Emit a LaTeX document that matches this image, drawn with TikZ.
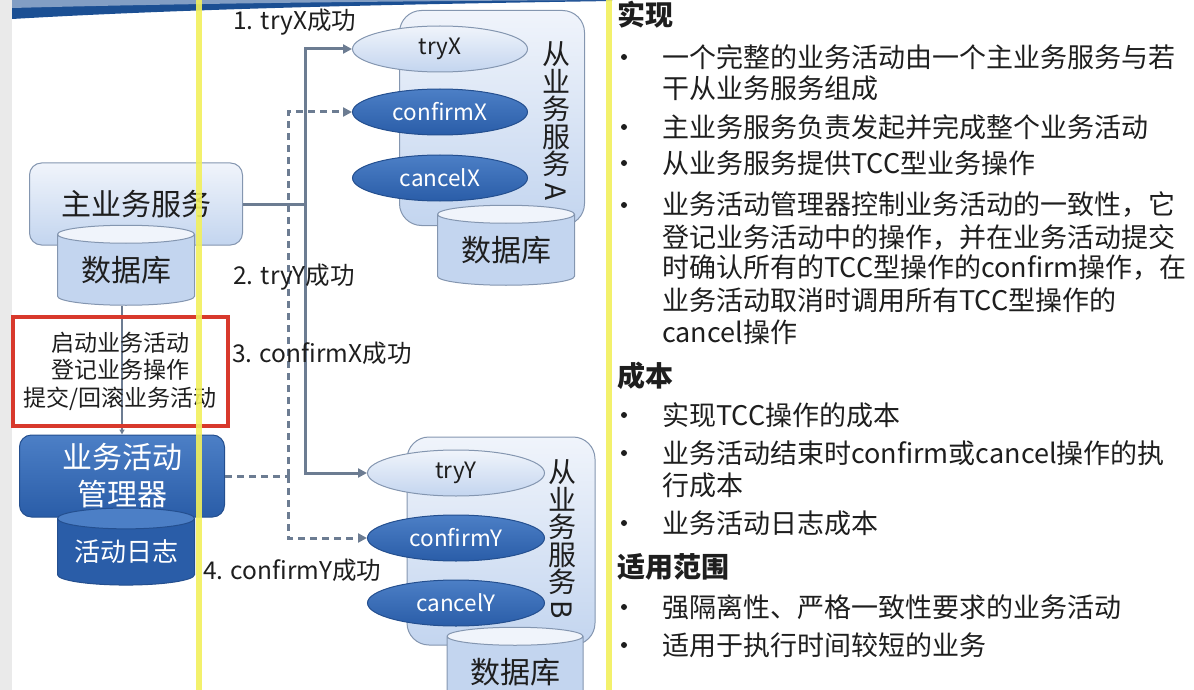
\documentclass[tikz,border=0pt]{standalone}
\usepackage{fontspec}
\setmainfont{Noto Sans CJK SC}
\usetikzlibrary{arrows.meta,positioning,calc,shapes.geometric}
\newcommand\fsz[2]{\fontsize{#1}{#2}\selectfont}
\definecolor{lite}{HTML}{C3D5EF}
\definecolor{litetop}{HTML}{F0F4FB}
\definecolor{deep}{HTML}{2A5DA8}
\definecolor{deeptop}{HTML}{4C7FC6}
\definecolor{edge}{HTML}{8496B0}
\definecolor{wire}{HTML}{6C7C92}
\definecolor{mark}{HTML}{D8392C}
\definecolor{hilite}{HTML}{F2F05C}
\definecolor{banner}{HTML}{1B4F93}
\definecolor{sidegray}{HTML}{EAEAEA}
\definecolor{ink}{HTML}{1E1E1E}
\tikzset{
  box/.style={draw=edge, line width=1pt, rounded corners=12pt, top color=litetop, bottom color=lite, text=ink},
  dbox/.style={draw=deep!85!black, line width=1pt, rounded corners=12pt, top color=deeptop, bottom color=deep, text=white},
  db/.style={cylinder, shape border rotate=90, aspect=0.2, draw=edge, line width=1pt,
    cylinder uses custom fill, cylinder body fill=lite, cylinder end fill=litetop,
    minimum width=137pt, minimum height=80pt, inner sep=0pt, text=ink},
  ddb/.style={db, draw=deep!85!black, cylinder body fill=deep, cylinder end fill=deeptop, text=white},
  opl/.style={ellipse, draw=edge, line width=1pt, top color=litetop, bottom color=lite, text=ink,
    minimum width=175pt, minimum height=46pt, inner sep=0pt, font=\fsz{22.5}{26}},
  opd/.style={opl, draw=deep!85!black, top color=deeptop, bottom color=deep, text=white},
  vlab/.style={align=center, inner sep=0pt, text=ink, font=\fsz{28}{27.5}},
  steplab/.style={anchor=west, inner sep=0pt, text=ink, font=\fsz{24.5}{28}},
  link/.style={draw=wire, line width=3pt},
  linkarr/.style={link, -{Triangle[length=9pt,width=9pt]}},
  ctl/.style={draw=wire, line width=3pt, dash pattern=on 7pt off 5pt},
  ctlarr/.style={ctl, -{Triangle[length=9pt,width=9pt]}},
  head/.style={anchor=west, inner sep=0pt, text=ink, font=\fsz{28}{32}\bfseries},
  txt/.style={anchor=west, inner sep=0pt, text=ink, font=\fsz{27}{30}},
  dot/.style={circle, fill=ink, inner sep=0pt, minimum size=6pt},
}

\begin{document}
\begin{tikzpicture}[x=1pt, y=-1pt]
  \useasboundingbox (0,0) rectangle (1194,690);
  \clip (0,0) rectangle (1194,690);
  \fill[sidegray] (0,0) rectangle (12,690);
  \fill[banner] (12,0) -- (612,0) -- (612,1) .. controls (420,4) and (200,8) .. (12,19) -- cycle;
  \fill[banner!55!white] (12,0) -- (612,0) .. controls (420,1) and (200,3) .. (12,8) -- cycle;

  % main service side
  \node[box, minimum width=213pt, minimum height=82pt, font=\fsz{30}{36}] (main) at (136,204) {主业务服务};
  \node[db, font=\fsz{30}{36}] (mdb) at (126,270) {数据库};
  \node[dbox, minimum width=205pt, minimum height=82pt, align=center, font=\fsz{30}{37}] (mgr) at (122,476) {业务活动\\管理器};
  \node[ddb, minimum height=77pt, font=\fsz{26}{30}] (log) at (126,552) {活动日志};
  \draw[wire, line width=2pt, -{Triangle[length=5pt,width=5pt]}] (mgr.north |- mdb.south) -- (mgr.north);
  \node[draw=mark, line width=4pt, minimum width=215pt, minimum height=109pt, align=center, text=ink,
    font=\fsz{23}{27.5}] (steps) at (120,371) {启动业务活动\\登记业务操作\\提交/回滚业务活动};

  % slave service A
  \node[box, rounded corners=22pt, minimum width=185pt, minimum height=215pt] (svcA) at (492,118) {};
  \node[opl] (tryx) at (440,49) {tryX};
  \node[opd] (cfx) at (440,112) {confirmX};
  \node[opd] (ccx) at (440,178) {cancelX};
  \node[db, font=\fsz{30}{36}] (dbA) at (506,250) {数据库};
  \node[vlab] (labA) at (556,122) {从\\业\\务\\服\\务\\\rotatebox[origin=c]{-90}{A}};

  % slave service B
  \node[box, rounded corners=22pt, minimum width=188pt, minimum height=208pt] (svcB) at (501,541) {};
  \node[opl, minimum width=177pt] (tryy) at (456,473) {tryY};
  \node[opd, minimum width=177pt] (cfy) at (456,538) {confirmY};
  \node[opd, minimum width=177pt] (ccy) at (456,603) {cancelY};
  \node[db, minimum width=136pt, font=\fsz{30}{36}] (dbB) at (515,672) {数据库};
  \node[vlab] (labB) at (562,540) {从\\业\\务\\服\\务\\\rotatebox[origin=c]{-90}{B}};

  % connectors
  \coordinate (jx) at (305,204);
  \coordinate (jd) at (288,476);
  \draw[link] (main.east) -- (jx);
  \draw[linkarr] (jx) |- (tryx.west);
  \draw[linkarr] (jx) |- (tryy.west);
  \draw[ctl] (mgr.east) -- (jd);
  \draw[ctlarr] (jd) |- (cfx.west);
  \draw[ctlarr] (jd) |- (cfy.west);

  \node[steplab] (s1) at (233,22) {1. tryX成功};
  \node[steplab] (s2) at (233,277) {2. tryY成功};
  \node[steplab] (s3) at (232,353) {3. confirmX成功};
  \node[steplab] (s4) at (203,570) {4. confirmY成功};

  % right column
  \node[head] (h1) at (617,15) {实现};
  \node[head] (h2) at (617,376) {成本};
  \node[head] (h3) at (617,567) {适用范围};
  \foreach \yy [count=\i] in {57,127,163,205,415,453,523,607,645}
    \node[dot] (bu\i) at (624,\yy) {};
  \foreach \yy/\tx [count=\i] in {
    57/一个完整的业务活动由一个主业务服务与若,
    88/干从业务服务组成,
    127/主业务服务负责发起并完成整个业务活动,
    163/从业务服务提供TCC型业务操作,
    205/业务活动管理器控制业务活动的一致性，它,
    237/登记业务活动中的操作，并在业务活动提交,
    268/时确认所有的TCC型操作的confirm操作，在,
    300/业务活动取消时调用所有TCC型操作的,
    332/cancel操作,
    415/实现TCC操作的成本,
    453/业务活动结束时confirm或cancel操作的执,
    485/行成本,
    523/业务活动日志成本,
    607/强隔离性、严格一致性要求的业务活动,
    645/适用于执行时间较短的业务}
    \node[txt] (ln\i) at (662,\yy) {\tx};

  % highlight bars
  \fill[hilite, opacity=0.9] (196,0) rectangle (202,690);
  \fill[hilite, opacity=0.9] (606,0) rectangle (612,690);
\end{tikzpicture}
\end{document}
